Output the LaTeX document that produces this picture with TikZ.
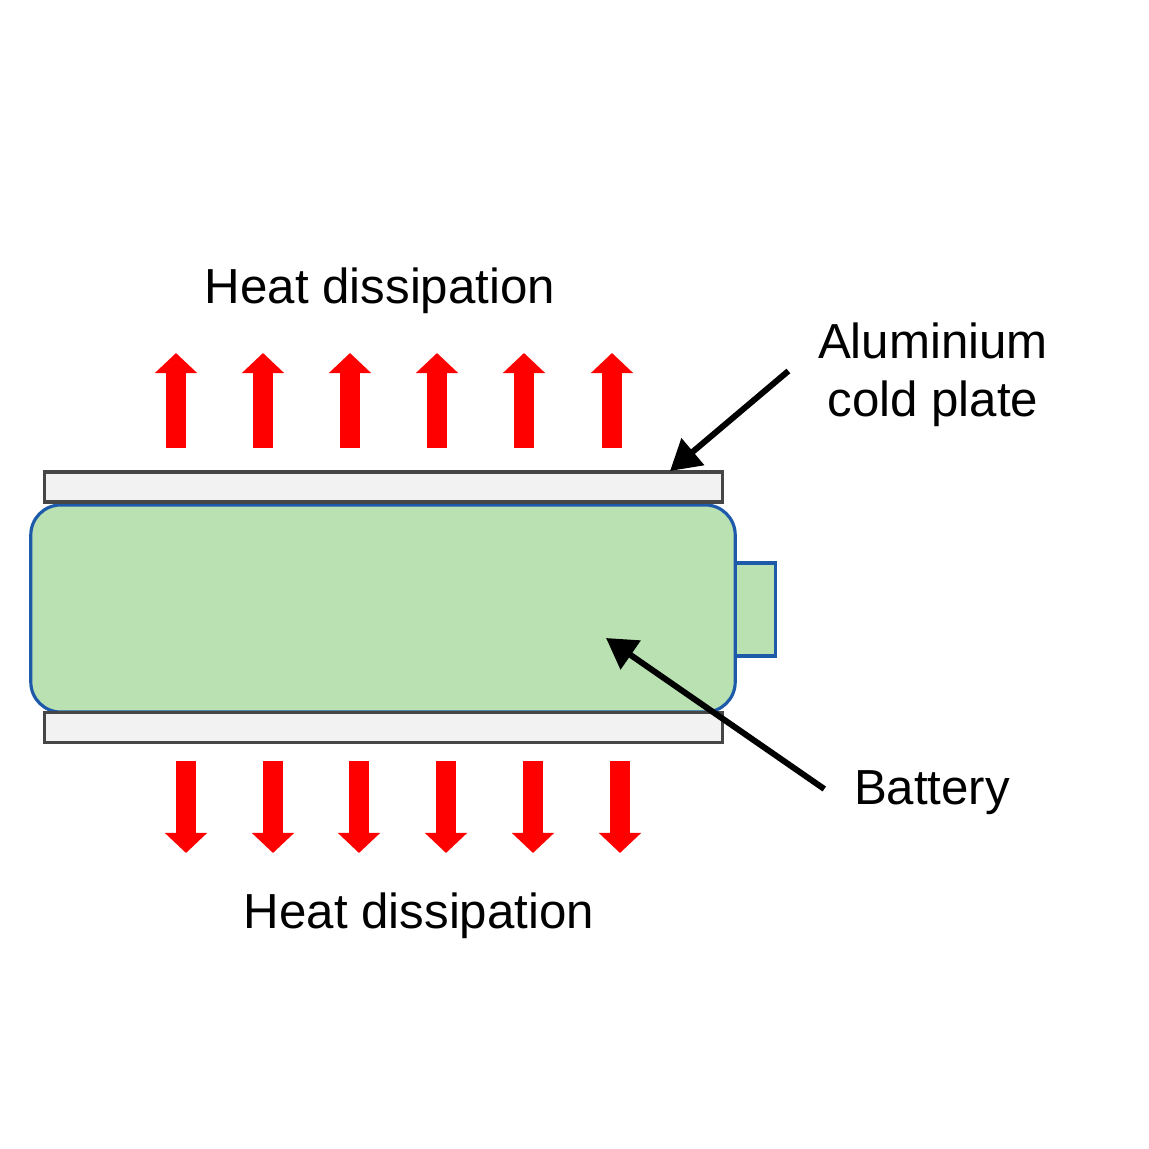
\documentclass[tikz,border=0pt]{standalone}
\usepackage{fontspec}
\setmainfont{Liberation Sans}
\usetikzlibrary{arrows.meta}

\definecolor{cellgreen}{RGB}{186,225,178}
\definecolor{cellblue}{RGB}{30,90,170}
\definecolor{plategray}{RGB}{242,242,242}
\definecolor{plateedge}{RGB}{70,70,70}

\tikzset{
  plate/.style={draw=plateedge, fill=plategray, line width=0.9pt, minimum width=6.77cm, minimum height=0.30cm, inner sep=0pt, outer sep=0pt},
  heat/.style={red, line width=0.2cm, -{Triangle[width=0.41cm,length=0.2cm]}},
  pointer/.style={line width=1.7pt, -{Triangle[width=0.34cm,length=0.3cm]}},
  lbl/.style={font=\fontsize{14}{16.5}\selectfont, inner sep=0pt}
}

\begin{document}
\begin{tikzpicture}[x=0.01cm,y=-0.01cm]
\useasboundingbox[fill=white] (0,0) rectangle (1149,1149);

\node[draw=cellblue, fill=cellgreen, line width=0.9pt, rounded corners=0.3cm, minimum width=7.04cm, minimum height=2.07cm, inner sep=0pt, outer sep=0pt] (cell) at (383,608.5) {};

\node[draw=cellblue, fill=cellgreen, line width=0.9pt, minimum width=0.40cm, minimum height=0.93cm, inner sep=0pt, outer sep=0pt, anchor=west] (tab) at (cell.east |- 0,609.5) {};

\node[plate] (topplate) at (383.5,487) {};

\node[plate] (botplate) at (383.5,727.5) {};

\node[lbl] (topheat) at (380,291) {Heat dissipation};

\node[lbl] (botheat) at (419,916) {Heat dissipation};

\node[lbl, align=center] (platelbl) at (933,375) {Aluminium\\cold plate};

\node[lbl] (celllbl) at (932,793) {Battery};

\coordinate (platept) at (670,471);
\coordinate (cellpt) at (606,638);

% heat flow out of the plates
\foreach \x in {176,263,350,437,524,612}
  \draw[heat] (\x,448) -- (\x,353);

\foreach \x in {186,273,359,446,533,620}
  \draw[heat] (\x,761) -- (\x,853);

\draw[pointer] ([xshift=-0.29cm,yshift=0.04cm]platelbl.west) -- (platept);

\draw[pointer] ([xshift=-0.29cm,yshift=0.04cm]celllbl.west) -- (cellpt);
\end{tikzpicture}
\end{document}
